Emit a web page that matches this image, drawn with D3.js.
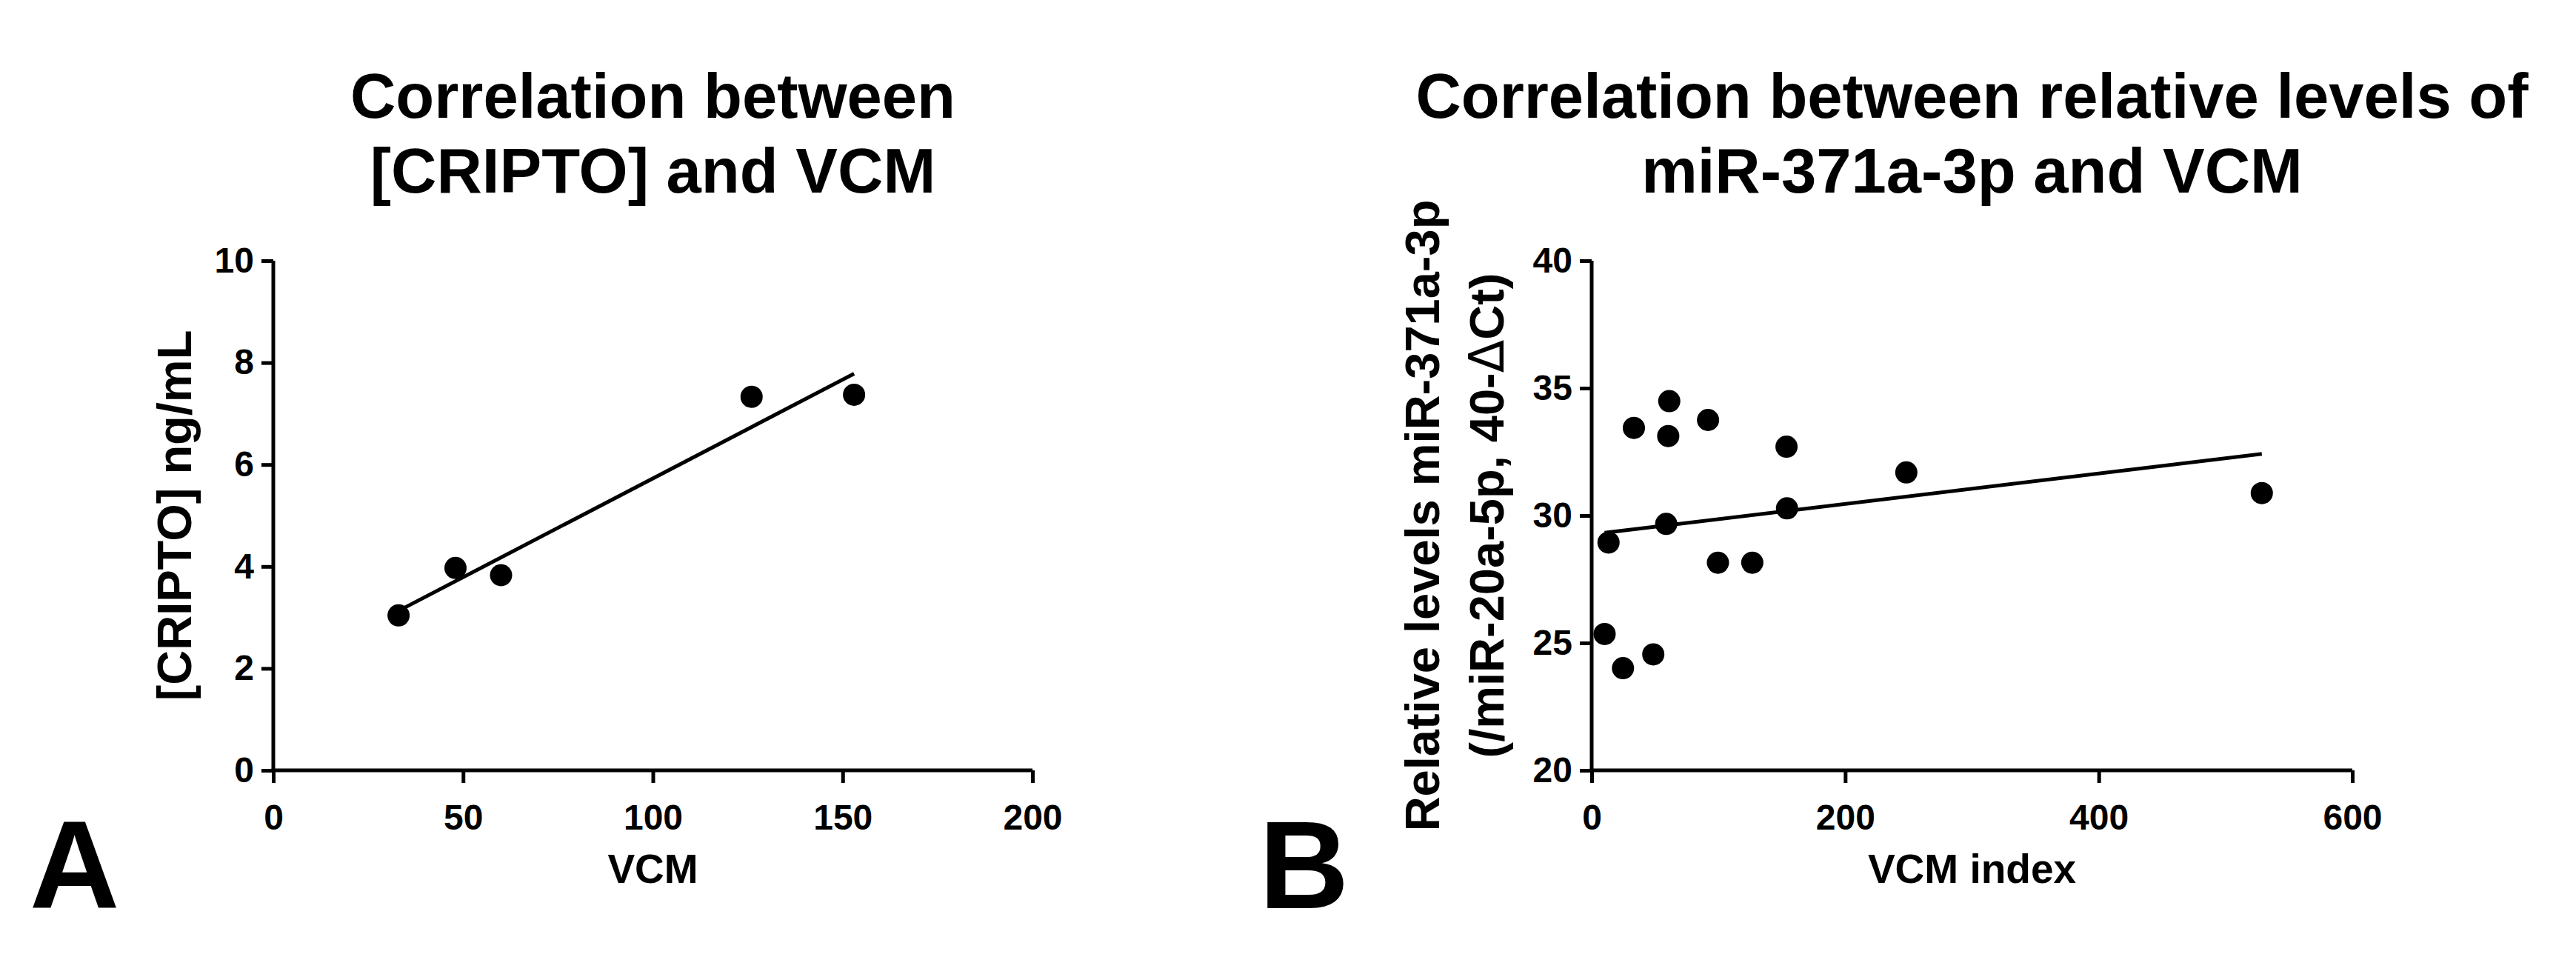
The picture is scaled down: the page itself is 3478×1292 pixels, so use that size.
<!DOCTYPE html>
<html>
<head>
<meta charset="utf-8">
<script src="https://cdn.jsdelivr.net/npm/d3@7"></script>
<style>
  body { margin: 0; background: #fff; }
  svg text { font-family: "Liberation Sans", Arial, Helvetica, sans-serif; font-weight: bold; fill: #000; }
</style>
</head>
<body>
<svg id="chart" width="3478" height="1292"></svg>
<script>
// Panel A: CRIPTO concentration vs VCM
const cripVcm = [33, 48, 60, 126, 153];
const cripConc = [3.04, 3.97, 3.83, 7.33, 7.37];
const cripXTicks = [0, 50, 100, 150, 200];
const cripYTicks = [0, 2, 4, 6, 8, 10];

// Panel B: miR-371a-3p relative levels vs VCM index
const mirVcm = [10.2, 24.7, 48.6, 13.3, 33.3, 61.2, 60.4, 58.8, 91.8, 99.6, 126.7, 153.7, 154.1, 248.2, 528.6];
const mirLevel = [25.35, 24.01, 24.55, 28.94, 33.44, 34.49, 33.12, 29.67, 33.75, 28.15, 28.15, 32.70, 30.28, 31.69, 30.88];
const mirXTicks = [0, 200, 400, 600];
const mirYTicks = [20, 25, 30, 35, 40];

const svg = d3.select("#chart");

// least squares fit, drawn between the smallest and largest x
function linFit(xs, ys) {
    const mx = d3.mean(xs), my = d3.mean(ys);
    const sxy = d3.sum(xs, (x, i) => (x - mx) * (ys[i] - my));
    const sxx = d3.sum(xs, x => (x - mx) * (x - mx));
    const b = sxy / sxx, a = my - b * mx;
    const [x0, x1] = d3.extent(xs);
    return [[x0, a + b * x0], [x1, a + b * x1]];
}

function drawPanel(p) {
    const x = d3.scaleLinear().domain(d3.extent(p.xTicks)).range([p.left, p.right]);
    const y = d3.scaleLinear().domain(d3.extent(p.yTicks)).range([p.bottom, p.top]);
    const g = svg.append("g");

    // title, two lines centred over the plot
    const cx = (p.left + p.right) / 2;
    g.append("text")
        .attr("x", cx).attr("y", 159)
        .attr("text-anchor", "middle")
        .attr("font-size", 85)
        .text(p.title[0]);
    g.append("text")
        .attr("x", cx).attr("y", 260)
        .attr("text-anchor", "middle")
        .attr("font-size", 85)
        .text(p.title[1]);

    const xAxis = g.append("g")
        .attr("transform", `translate(0,${p.bottom})`)
        .call(d3.axisBottom(x).tickValues(p.xTicks).tickSize(17).tickSizeOuter(0).tickPadding(29));
    const yAxis = g.append("g")
        .attr("transform", `translate(${p.left},0)`)
        .call(d3.axisLeft(y).tickValues(p.yTicks).tickSize(16).tickSizeOuter(0).tickPadding(10));

    [xAxis, yAxis].forEach(a => {
        a.selectAll("path, line").attr("stroke", "#000").attr("stroke-width", 5);
        a.selectAll("text").attr("font-size", 48).attr("fill", "#000")
            .attr("font-family", "'Liberation Sans', Arial, sans-serif").attr("font-weight", "bold");
    });
    xAxis.select(".domain").attr("d", `M${p.left - 2.5},0H${p.right}`);
    yAxis.select(".domain").attr("d", `M0,${p.top}V${p.bottom + 2.5}`);

    // x axis title
    g.append("text")
        .attr("x", cx).attr("y", 1192)
        .attr("text-anchor", "middle")
        .attr("font-size", 55)
        .text(p.xLabel);

    // y axis title (one or two lines)
    const cy = (p.top + p.bottom) / 2;
    p.yLabel.forEach((line, i) => {
        const t = g.append("text")
            .attr("transform", `translate(${p.yLabelX[i]},${cy}) rotate(-90)`)
            .attr("text-anchor", "middle")
            .attr("font-size", 65);
        if (line.includes("Δ")) {
            const parts = line.split("Δ");
            t.append("tspan").text(parts[0]);
            t.append("tspan").attr("font-weight", "normal").attr("font-family", "'DejaVu Sans', sans-serif").text("Δ");
            t.append("tspan").text(parts[1]);
        } else {
            t.text(line);
        }
    });

    // regression line
    const fit = linFit(p.xs, p.ys);
    g.append("path")
        .attr("d", d3.line().x(d => x(d[0])).y(d => y(d[1]))(fit))
        .attr("stroke", "#000")
        .attr("stroke-width", 5)
        .attr("fill", "none");

    // points
    g.append("g").selectAll("circle")
        .data(p.xs.map((v, i) => [v, p.ys[i]]))
        .join("circle")
        .attr("cx", d => x(d[0]))
        .attr("cy", d => y(d[1]))
        .attr("r", 15)
        .attr("fill", "#000");

    // panel letter
    g.append("text")
        .attr("x", p.letterX).attr("y", 1226)
        .attr("font-size", 168)
        .text(p.letter);
}

drawPanel({
    xs: cripVcm, ys: cripConc, xTicks: cripXTicks, yTicks: cripYTicks,
    left: 369, right: 1394, top: 352, bottom: 1040,
    title: ["Correlation between", "[CRIPTO] and VCM"],
    xLabel: "VCM",
    yLabel: ["[CRIPTO] ng/mL"], yLabelX: [258],
    letter: "A", letterX: 40
});

drawPanel({
    xs: mirVcm, ys: mirLevel, xTicks: mirXTicks, yTicks: mirYTicks,
    left: 2149, right: 3176, top: 352, bottom: 1040,
    title: ["Correlation between relative levels of", "miR-371a-3p and VCM"],
    xLabel: "VCM index",
    yLabel: ["Relative levels miR-371a-3p", "(/miR-20a-5p, 40-ΔCt)"], yLabelX: [1943, 2030],
    letter: "B", letterX: 1700
});
</script>
</body>
</html>
